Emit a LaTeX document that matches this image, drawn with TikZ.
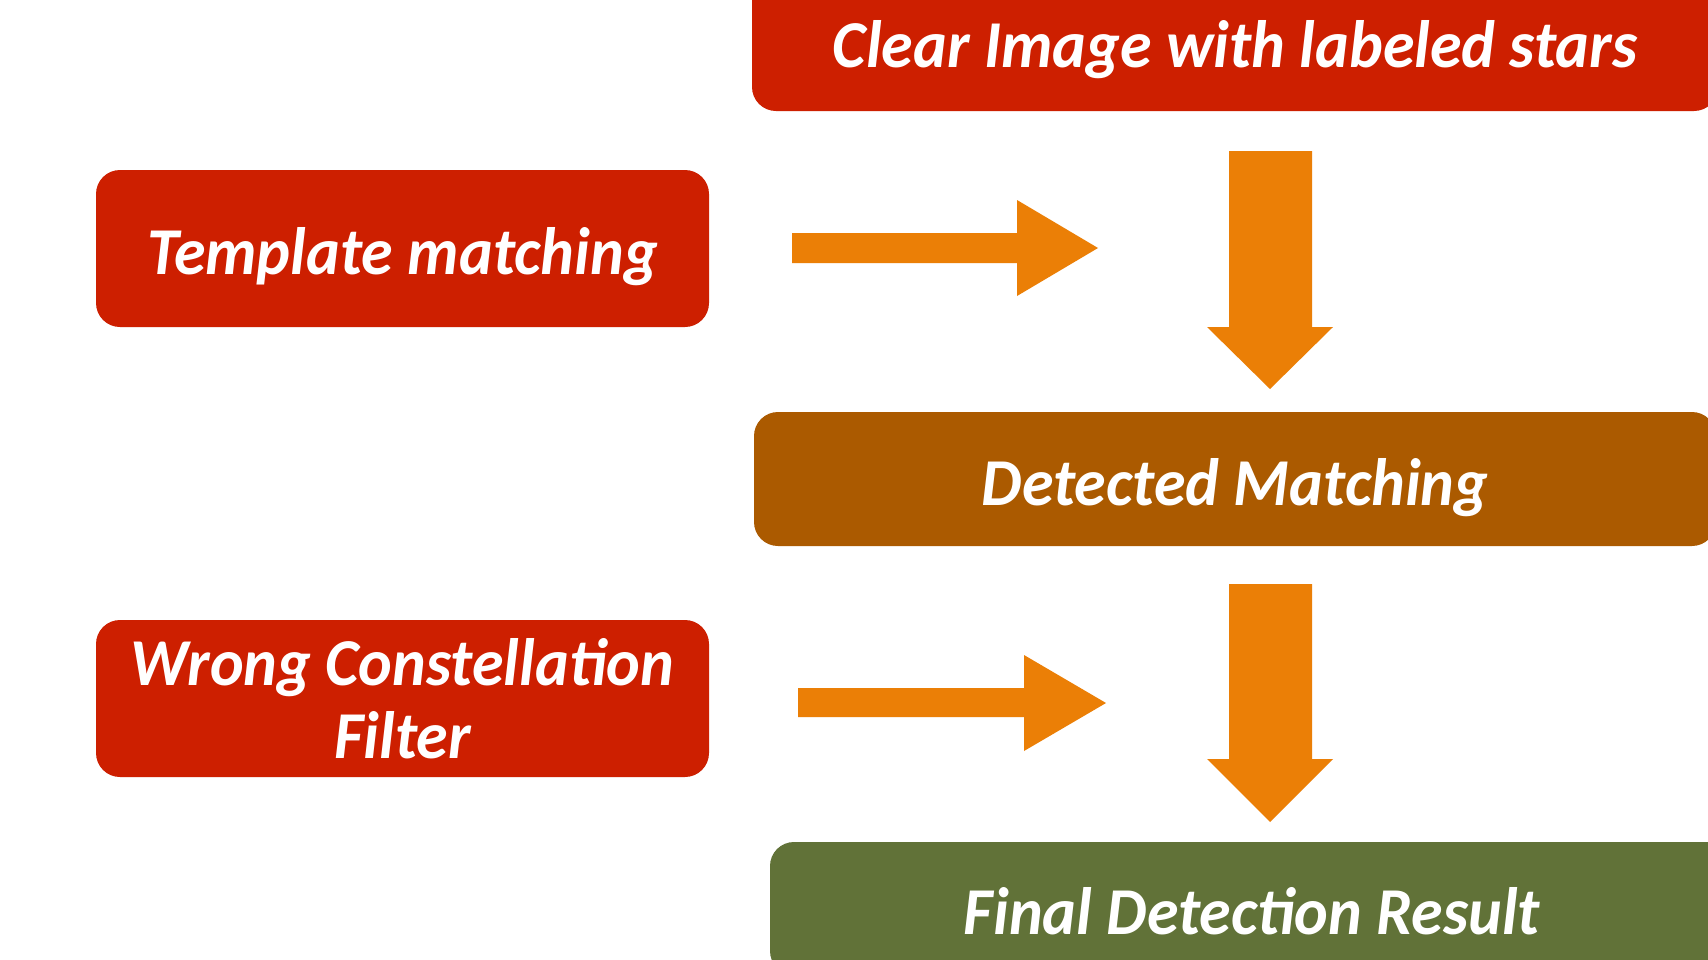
\documentclass[tikz,border=0pt]{standalone}
\usepackage{fontspec}
\setmainfont{Carlito}[FakeStretch=0.955]
\definecolor{boxred}{RGB}{205,31,0}
\definecolor{boxbrown}{RGB}{171,90,0}
\definecolor{boxgreen}{RGB}{97,114,56}
\definecolor{arroworange}{RGB}{235,127,6}
\begin{document}
\begin{tikzpicture}[x=1pt,y=-1pt,
  stage/.style={rounded corners=24pt, inner sep=0pt, text=white,
    font=\fontsize{67}{73}\selectfont\bfseries\itshape, align=center},
  oneline/.style={text height=52pt, text depth=0pt},
  blockarrow/.style={fill=arroworange, draw=none}]
\useasboundingbox (0,0) rectangle (1708,959);
\clip (0,0) rectangle (1708,959);
\fill[white] (0,0) rectangle (1708,959);

% stage boxes
\node[stage, oneline, fill=boxred, minimum width=966pt, minimum height=139pt] (clear) at (1235,41.5) {Clear Image with labeled stars};
\node[stage, oneline, fill=boxred, minimum width=613pt, minimum height=157pt] (tmpl) at (402.5,248.5) {Template matching};
\node[stage, oneline, fill=boxbrown, minimum width=962pt, minimum height=134pt] (det) at (1235,479) {Detected Matching};
\node[stage, fill=boxred, minimum width=613pt, minimum height=157pt] (wrong) at (402.5,698.5) {\raisebox{-3pt}{\parbox{600pt}{\centering Wrong Constellation\\Filter}}};
\node[stage, oneline, fill=boxgreen, minimum width=964pt, minimum height=133pt] (final) at (1252,908.5) {Final Detection Result};

% block arrows
\fill[blockarrow] (792,233) -- (1017,233) -- (1017,200) -- (1098,248)
  -- (1017,296) -- (1017,263) -- (792,263) -- cycle;
\fill[blockarrow] (798,688) -- (1024,688) -- (1024,655) -- (1106,703)
  -- (1024,751) -- (1024,717) -- (798,717) -- cycle;
\fill[blockarrow] (1229,151) -- (1312,151) -- (1312,327) -- (1333,327)
  -- (1270,389) -- (1207,327) -- (1229,327) -- cycle;
\fill[blockarrow] (1229,584) -- (1312,584) -- (1312,759) -- (1333,759)
  -- (1270,822) -- (1207,759) -- (1229,759) -- cycle;
\end{tikzpicture}
\end{document}
